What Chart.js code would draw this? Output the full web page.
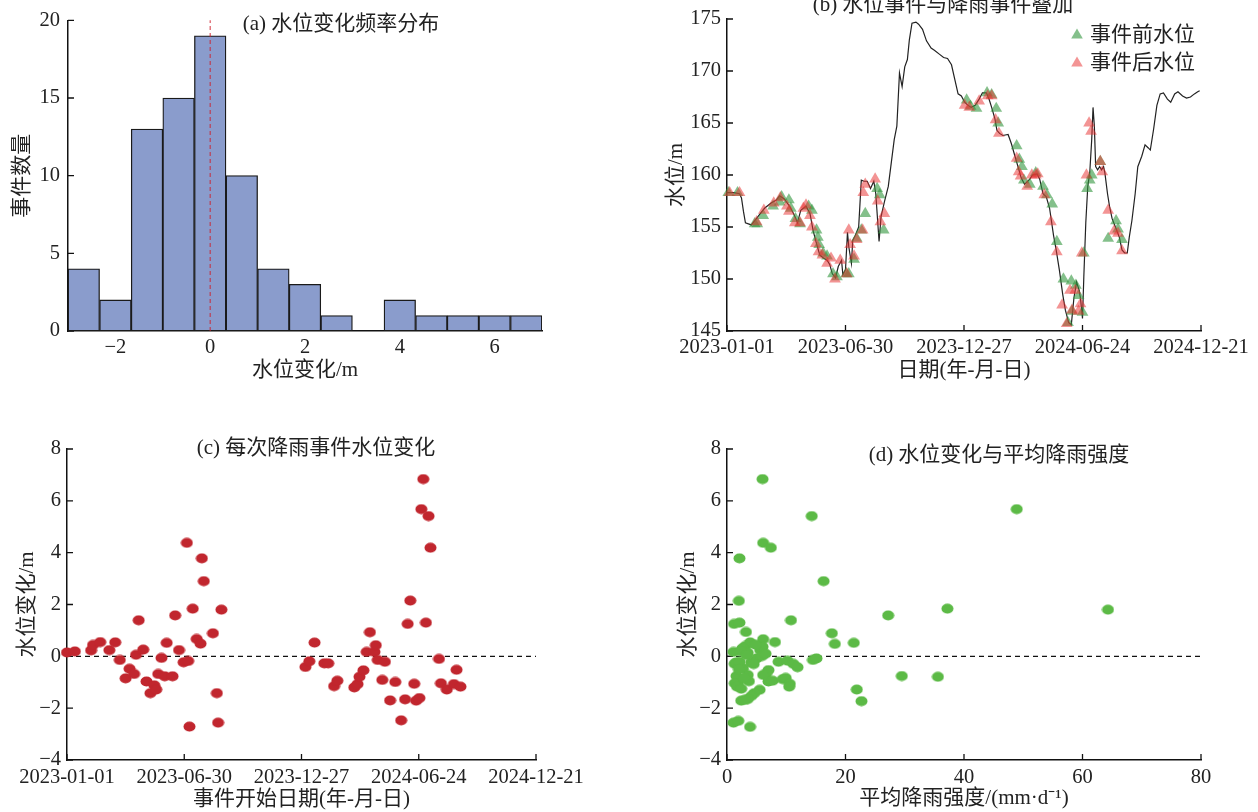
<!DOCTYPE html>
<html>
<head>
<meta charset="utf-8">
<title>水位变化与降雨事件</title>
<script src="https://cdn.jsdelivr.net/npm/chart.js@4.4.1/dist/chart.umd.min.js"></script>
<style>
  body { margin: 0; background: #fff; }
  #wrap { position: relative; width: 1258px; height: 812px; }
  #wrap canvas { position: absolute; }
</style>
</head>
<body>
<div id="wrap">
  <canvas id="histCV" width="629" height="406" style="left:0;top:0"></canvas>
  <canvas id="levelCV" width="629" height="406" style="left:629px;top:0"></canvas>
  <canvas id="changeCV" width="629" height="406" style="left:0;top:406px"></canvas>
  <canvas id="rainCV" width="629" height="406" style="left:629px;top:406px"></canvas>
</div>
<script>
// ---- data ----
// (a) histogram, bin width 2/3 m
const histCenters = [-2.667, -2, -1.333, -0.667, 0, 0.667, 1.333, 2, 2.667, 3.333, 4, 4.667, 5.333, 6, 6.667];
const histCounts = [4, 2, 13, 15, 19, 10, 4, 3, 1, 0, 2, 1, 1, 1, 1];

// (b) water level, x = days since 2023-01-01
const levelDays = [0, 10, 19, 22, 25, 28, 37, 47, 57, 67, 75, 80, 87, 95, 101, 104, 107, 112, 120, 126,
  131, 136, 141, 147, 152, 156, 160, 165, 169, 174, 176, 180, 183, 185, 189, 191, 195, 200, 204, 208,
  213, 218, 223, 226, 231, 234, 239, 245, 250, 254, 258, 262, 266, 270, 274, 277, 281, 287, 291, 297,
  303, 310, 315, 323, 329, 335, 341, 346, 351, 356, 361, 366, 371, 377, 383, 388, 394, 398, 402, 407,
  410, 414, 419, 427, 432, 437, 442, 447, 452, 460, 464, 471, 475, 480, 485, 490, 496, 500, 505, 510,
  514, 519, 523, 527, 531, 535, 537, 540, 542, 545, 548, 551, 554, 556, 558, 560, 563, 566, 569, 572,
  574, 578, 581, 585, 590, 596, 600, 604, 608, 611, 615, 620, 624, 630, 635, 640, 643, 648, 653, 658,
  663, 669, 674, 680, 685, 692, 698, 704, 710, 715, 718];
const levelValues = [158.3, 158.3, 158.2, 157.8, 156.5, 155.4, 155.2, 156.0, 156.8, 157.3, 157.6, 158.0, 157.7, 157.0, 156.3, 155.9, 155.4, 156.6, 157.0, 156.3,
  154.6, 153.4, 152.3, 152.0, 151.8, 151.4, 150.5, 150.1, 151.2, 151.8, 150.4, 150.9, 154.5, 153.1, 151.5, 153.7, 154.2, 155.0, 159.5, 159.4,
  159.4, 158.7, 159.4, 158.2, 153.6, 156.0, 157.4, 158.9, 161.4, 163.4, 164.7, 169.8, 168.5, 170.4, 171.1, 173.0, 174.6, 174.7, 174.5, 174.0,
  172.9, 172.2, 172.0, 171.6, 171.3, 171.2, 170.6, 169.2, 167.8, 167.6, 167.0, 166.7, 166.5, 166.7, 167.3, 167.9, 167.9, 167.3, 166.5, 165.4,
  164.3, 164.0, 163.8, 163.9, 163.0, 161.9, 160.8, 159.7, 159.1, 159.6, 160.0, 160.1, 159.6, 158.2, 157.9, 156.8, 154.2, 152.8, 150.8, 148.5,
  147.0, 145.8, 145.6, 148.2, 149.7, 148.9, 148.1, 146.2, 150.2, 155.4, 158.9, 160.2, 163.4, 166.5, 164.7, 160.8, 160.5, 160.8, 160.5, 160.8,
  160.2, 158.2, 157.0, 155.8, 155.0, 154.0, 152.8, 152.5, 152.5, 154.0, 155.6, 158.2, 160.8, 161.8, 162.9, 162.6, 162.4, 164.4, 166.7, 167.8,
  167.9, 167.3, 167.0, 167.8, 168.0, 167.6, 167.4, 167.5, 167.8, 168.0, 168.1];

// (b) level before / after each rain event
const beforeDays = [2, 16, 42, 46, 55, 70, 80, 83, 94, 97, 104, 111, 124, 129, 136, 138, 140, 146, 152, 161,
  167, 181, 185, 193, 197, 204, 210, 228, 232, 238, 364, 370, 379, 395, 402, 409, 412, 440, 444, 448,
  451, 460, 469, 480, 486, 494, 501, 511, 518, 523, 524, 530, 534, 540, 542, 547, 551, 554, 567, 579,
  591, 594, 600];
const beforeLevels = [158.3, 158.3, 155.3, 155.3, 156.1, 157.0, 157.4, 157.9, 157.6, 156.8, 155.8, 155.3, 157.0, 156.6, 154.7, 154.0, 153.3, 152.5, 152.2, 150.5,
  150.2, 150.5, 150.5, 151.9, 153.9, 154.7, 156.3, 158.7, 158.1, 154.7, 167.2, 166.6, 166.4, 167.9, 167.7, 166.4, 165.0, 162.8, 161.5, 160.8,
  159.5, 159.1, 160.2, 158.9, 158.1, 157.2, 153.6, 150.0, 145.8, 149.8, 146.9, 149.4, 148.4, 146.8, 152.5, 158.7, 159.5, 160.0, 161.3, 153.9,
  155.6, 154.8, 153.8];
const afterDays = [4, 19, 45, 56, 71, 81, 91, 94, 103, 111, 116, 120, 126, 129, 135, 139, 145, 152, 158, 164,
  172, 182, 185, 187, 193, 197, 206, 207, 210, 225, 229, 233, 239, 361, 368, 383, 396, 402, 408, 413,
  440, 443, 446, 456, 463, 469, 472, 482, 492, 501, 509, 516, 521, 524, 529, 534, 537, 539, 546, 550,
  553, 567, 570, 579, 588, 594, 600];
const afterLevels = [158.3, 158.3, 155.5, 156.6, 157.3, 157.8, 157.0, 156.5, 155.4, 155.4, 156.8, 157.1, 156.1, 155.0, 153.4, 152.6, 152.3, 151.5, 152.0, 150.0,
  151.8, 150.5, 154.7, 153.3, 152.2, 153.8, 154.7, 158.3, 159.1, 159.6, 157.5, 155.5, 156.3, 166.7, 166.5, 167.1, 167.6, 167.6, 165.3, 164.0,
  161.6, 160.3, 159.9, 158.9, 160.0, 160.0, 160.1, 158.1, 155.5, 152.6, 147.5, 145.7, 148.9, 147.0, 148.9, 146.9, 147.6, 152.5, 160.0, 165.0,
  164.2, 161.3, 160.3, 156.6, 154.6, 154.4, 152.7];

// (c) change per event, x = start day since 2023-01-01
const eventDays = [0, 12, 37, 40, 51, 65, 74, 81, 90, 96, 103, 106, 110, 117, 122, 128, 134, 137, 140, 145,
  150, 153, 162, 166, 172, 179, 184, 186, 188, 193, 199, 205, 207, 210, 224, 230, 232, 237, 366, 372,
  380, 395, 401, 410, 415, 441, 446, 449, 455, 460, 465, 472, 474, 477, 484, 488, 496, 504, 513, 519,
  523, 527, 533, 536, 541, 544, 547, 551, 555, 558, 571, 574, 583, 594, 598, 604];
const eventChange = [0.15, 0.19, 0.23, 0.44, 0.55, 0.24, 0.54, -0.14, -0.85, -0.48, -0.68, 0.06, 1.39, 0.26, -0.97, -1.42, -1.12, -1.28, -0.68, -0.06,
  -0.77, 0.52, -0.77, 1.58, 0.24, -0.23, 4.38, -0.18, -2.71, 1.84, 0.67, 0.49, 3.78, 2.90, 0.89, -1.42, -2.56, 1.80, -0.41, -0.19,
  0.53, -0.27, -0.27, -1.15, -0.94, -1.20, -1.07, -0.79, -0.54, 0.17, 0.93, 0.17, 0.43, -0.14, -0.91, -0.21, -1.70, -0.99, -2.47, -1.66,
  1.25, 2.15, -1.06, -1.71, -1.61, 5.68, 6.84, 1.30, 5.41, 4.19, -0.10, -1.04, -1.28, -1.07, -0.52, -1.17];

// (d) mean rain intensity (mm/d) vs change
const rainIntensity = [6.0, 14.3, 48.9, 6.1, 7.4, 2.1, 16.3, 2.0, 27.2, 37.2, 64.3, 10.8, 1.2, 2.1, 3.2, 17.7, 18.2, 21.4, 8.1, 6.1,
  29.5, 35.6, 21.9, 22.7, 14.5, 15.1, 3.9, 1.1, 1.9, 1.1, 3.1, 3.9, 2.6, 3.5, 5.6, 6.0, 5.0, 5.9, 1.3,
  1.5, 2.1, 2.7, 4.1, 8.7, 10.2, 11.2, 11.9, 7.0, 6.6, 6.1, 1.6, 3.5, 1.8, 1.3, 1.7, 3.7, 5.5, 4.6, 4.1,
  3.5, 2.4, 3.0, 7.0, 7.7, 9.4, 9.9, 10.6, 10.5, 2.3, 3.3, 2.0, 2.9, 4.8, 4.5, 2.4, 6.5];
const rainChange = [6.84, 5.41, 5.68, 4.38, 4.19, 3.78, 2.90, 2.14, 1.58, 1.84, 1.80, 1.39, 1.25, 1.30, 0.94, 0.89, 0.48, 0.52, 0.55, 0.66,
  -0.76, -0.79, -1.28, -1.73, -0.14, -0.08, -2.72, -2.56, -2.49, 0.17, 0.40, 0.54, 0.31, 0.14, 0.24, 0.37, -0.08, 0.01, -0.29,
  -0.24, -0.21, -0.46, -0.24, -0.21, -0.17, -0.29, -0.42, -0.53, -0.68, -0.72, -0.76, -0.72, -1.06, -1.04, -1.17, -0.96, -1.29, -1.42, -1.53,
  -1.65, -1.71, -1.68, -0.97, -0.94, -0.88, -0.83, -1.06, -1.17, 0.20, 0.05, -0.50, -0.85, 0.45, -0.30, -1.25, 0.10];

// ---- shared bits ----
const FONT = '"Liberation Serif", "Noto Sans CJK SC", serif';
Chart.defaults.font.family = FONT;
Chart.defaults.color = '#222';
Chart.defaults.animation = false;

const TICK = 20.5;
const t0 = Date.UTC(2023, 0, 1);
const fmtDate = v => new Date(t0 + v * 86400000).toISOString().slice(0, 10);
const fmtNum = v => (v < 0 ? '\u2212' + Math.abs(v) : String(v));
const pairs = (xs, ys) => xs.map((x, i) => ({x: x, y: ys[i]}));

// elliptical dot used in (c) and (d)
function dot(color) {
  const c = document.createElement('canvas');
  c.width = 13; c.height = 11;
  const g = c.getContext('2d');
  g.fillStyle = color;
  g.beginPath();
  g.ellipse(6.5, 5.5, 6, 4.9, 0, 0, Math.PI * 2);
  g.fill();
  return c;
}

// inward ticks, reference lines, panel title, legend
const extras = {
  id: 'extras',
  beforeDatasetsDraw(chart, args, opts) {
    const {ctx, chartArea: a, scales: {x, y}} = chart;
    ctx.save();
    ctx.strokeStyle = '#111';
    ctx.lineWidth = 1.3;
    ctx.beginPath();
    x.ticks.forEach(t => {
      const px = x.getPixelForValue(t.value);
      ctx.moveTo(px, a.bottom); ctx.lineTo(px, a.bottom - 6);
    });
    y.ticks.forEach(t => {
      const py = y.getPixelForValue(t.value);
      ctx.moveTo(a.left, py); ctx.lineTo(a.left + 6, py);
    });
    ctx.stroke();
    if (opts.zeroLine) {
      const py = y.getPixelForValue(0);
      ctx.setLineDash([5, 4]);
      ctx.lineWidth = 1.4;
      ctx.beginPath();
      ctx.moveTo(a.left, py); ctx.lineTo(a.right, py);
      ctx.stroke();
    }
    ctx.restore();
  },
  afterDatasetsDraw(chart, args, opts) {
    const {ctx, scales: {x, y}} = chart;
    ctx.save();
    if (opts.vLine) {
      const px = x.getPixelForValue(0);
      ctx.strokeStyle = 'rgba(205, 30, 40, 0.75)';
      ctx.lineWidth = 1.2;
      ctx.setLineDash([4, 3]);
      ctx.beginPath();
      ctx.moveTo(px, y.getPixelForValue(0));
      ctx.lineTo(px, y.getPixelForValue(20));
      ctx.stroke();
      ctx.setLineDash([]);
    }
    ctx.font = '21px ' + FONT;
    ctx.fillStyle = '#222';
    ctx.textBaseline = 'middle';
    if (opts.title) {
      ctx.textAlign = 'center';
      ctx.fillText(opts.title.text, opts.title.x, opts.title.y);
    }
    if (opts.legend) {
      ctx.textAlign = 'left';
      opts.legend.items.forEach((it, i) => {
        const lx = opts.legend.x, ly = opts.legend.y + i * opts.legend.gap;
        ctx.fillStyle = it.color;
        ctx.beginPath();
        ctx.moveTo(lx, ly - 6.5);
        ctx.lineTo(lx + 5.8, ly + 3.5);
        ctx.lineTo(lx - 5.8, ly + 3.5);
        ctx.closePath();
        ctx.fill();
        ctx.fillStyle = '#222';
        ctx.fillText(it.text, lx + 13, ly);
      });
    }
    ctx.restore();
  }
};

function axisX(opt) {
  return Object.assign({
    type: 'linear',
    offset: false,
    grid: {display: false, drawTicks: false},
    border: {display: true, color: '#111', width: 1.5},
  }, opt);
}
function axisY(opt) {
  return Object.assign({
    type: 'linear',
    grid: {display: false, drawTicks: false},
    border: {display: true, color: '#111', width: 1.5},
  }, opt);
}

// (a) 水位变化频率分布
(function(){
  const ctx = document.getElementById('histCV');

  new Chart(ctx, {
    type: 'bar',
    data: {
      datasets: [{
        data: pairs(histCenters, histCounts),
        backgroundColor: '#8A9CCC',
        borderColor: '#1a1a1a',
        borderWidth: 1.3,
        borderSkipped: false,
        barPercentage: 1,
        categoryPercentage: 1
      }]
    },
    options: {
      responsive: false,
      layout: {padding: {left: 0, top: 19, right: 87, bottom: 0}},
      scales: {
        x: axisX({
          min: -3, max: 7,
          afterBuildTicks: s => { s.ticks = [-2, 0, 2, 4, 6].map(v => ({value: v})); },
          afterFit: s => { s.height = 75; },
          ticks: {padding: 4, maxRotation: 0, autoSkip: false, font: {size: TICK}, color: '#222', callback: fmtNum},
          title: {display: true, text: '水位变化/m', font: {size: 21}, color: '#222', padding: {top: 0, bottom: 23}}
        }),
        y: axisY({
          min: 0, max: 20,
          afterFit: s => { s.width = 68; },
          ticks: {stepSize: 5, padding: 8, font: {size: TICK}, color: '#222'},
          title: {display: true, text: '事件数量', font: {size: 21}, color: '#222', padding: {top: 10, bottom: 0}}
        })
      },
      plugins: {
        legend: {display: false},
        tooltip: {enabled: false},
        extras: {vLine: true, title: {text: '(a) 水位变化频率分布', x: 341, y: 24}}
      }
    },
    plugins: [extras]
  });
})();

// (b) 水位事件与降雨事件叠加
(function(){
  const ctx = document.getElementById('levelCV');
  const green = 'rgba(50, 150, 62, 0.6)';
  const red = 'rgba(232, 50, 50, 0.52)';

  new Chart(ctx, {
    type: 'scatter',
    data: {
      datasets: [{
        label: '水位',
        data: pairs(levelDays, levelValues),
        showLine: true,
        borderColor: '#222',
        borderWidth: 1.2,
        pointRadius: 0,
        order: 3
      }, {
        label: '事件前水位',
        data: pairs(beforeDays, beforeLevels),
        pointStyle: 'triangle',
        pointRadius: 6.8,
        backgroundColor: green,
        borderWidth: 0,
        clip: false,
        order: 2
      }, {
        label: '事件后水位',
        data: pairs(afterDays, afterLevels),
        pointStyle: 'triangle',
        pointRadius: 6.8,
        backgroundColor: red,
        borderWidth: 0,
        clip: false,
        order: 1
      }]
    },
    options: {
      responsive: false,
      layout: {padding: {left: 0, top: 19, right: 57, bottom: 0}},
      scales: {
        x: axisX({
          min: 0, max: 720,
          afterFit: s => { s.height = 75; },
          ticks: {stepSize: 180, padding: 4, maxRotation: 0, autoSkip: false, font: {size: TICK}, color: '#222', callback: fmtDate},
          title: {display: true, text: '日期(年-月-日)', font: {size: 21}, color: '#222', padding: {top: 0, bottom: 23}}
        }),
        y: axisY({
          min: 145, max: 175,
          afterFit: s => { s.width = 98; },
          ticks: {stepSize: 5, padding: 6, font: {size: TICK}, color: '#222'},
          title: {display: true, text: '水位/m', font: {size: 21}, color: '#222', padding: {top: 35, bottom: 0}}
        })
      },
      plugins: {
        legend: {display: false},
        tooltip: {enabled: false},
        extras: {
          title: {text: '(b) 水位事件与降雨事件叠加', x: 314, y: 5},
          legend: {x: 448, y: 35, gap: 28, items: [
            {text: '事件前水位', color: green},
            {text: '事件后水位', color: red}
          ]}
        }
      }
    },
    plugins: [extras]
  });
})();

// (c) 每次降雨事件水位变化
(function(){
  const ctx = document.getElementById('changeCV');

  new Chart(ctx, {
    type: 'scatter',
    data: {
      datasets: [{
        data: pairs(eventDays, eventChange),
        pointStyle: dot('rgb(193, 38, 46)'),
        pointRadius: 5,
        clip: false
      }]
    },
    options: {
      responsive: false,
      layout: {padding: {left: 0, top: 43, right: 93, bottom: 0}},
      scales: {
        x: axisX({
          min: 0, max: 720,
          afterFit: s => { s.height = 52; },
          ticks: {stepSize: 180, padding: 5, maxRotation: 0, autoSkip: false, font: {size: TICK}, color: '#222', callback: fmtDate},
          title: {display: true, text: '事件开始日期(年-月-日)', font: {size: 21}, color: '#222', padding: {top: 0, bottom: 0}}
        }),
        y: axisY({
          min: -4, max: 8,
          afterFit: s => { s.width = 67; },
          ticks: {stepSize: 2, padding: 6, font: {size: TICK}, color: '#222', callback: fmtNum},
          title: {display: true, text: '水位变化/m', font: {size: 21}, color: '#222', padding: {top: 15, bottom: 0}}
        })
      },
      plugins: {
        legend: {display: false},
        tooltip: {enabled: false},
        extras: {zeroLine: true, title: {text: '(c) 每次降雨事件水位变化', x: 316, y: 42}}
      }
    },
    plugins: [extras]
  });
})();

// (d) 水位变化与平均降雨强度
(function(){
  const ctx = document.getElementById('rainCV');

  new Chart(ctx, {
    type: 'scatter',
    data: {
      datasets: [{
        data: pairs(rainIntensity, rainChange),
        pointStyle: dot('rgb(92, 186, 70)'),
        pointRadius: 5,
        clip: false
      }]
    },
    options: {
      responsive: false,
      layout: {padding: {left: 0, top: 43, right: 57, bottom: 0}},
      scales: {
        x: axisX({
          min: 0, max: 80,
          afterFit: s => { s.height = 52; },
          ticks: {stepSize: 20, padding: 5, maxRotation: 0, autoSkip: false, font: {size: TICK}, color: '#222'},
          title: {display: true, text: '平均降雨强度/(mm·d⁻¹)', font: {size: 21}, color: '#222', padding: {top: 0, bottom: 1}}
        }),
        y: axisY({
          min: -4, max: 8,
          afterFit: s => { s.width = 98; },
          ticks: {stepSize: 2, padding: 6, font: {size: TICK}, color: '#222', callback: fmtNum},
          title: {display: true, text: '水位变化/m', font: {size: 21}, color: '#222', padding: {top: 47, bottom: 0}}
        })
      },
      plugins: {
        legend: {display: false},
        tooltip: {enabled: false},
        extras: {zeroLine: true, title: {text: '(d) 水位变化与平均降雨强度', x: 370, y: 49}}
      }
    },
    plugins: [extras]
  });
})();
</script>
</body>
</html>
